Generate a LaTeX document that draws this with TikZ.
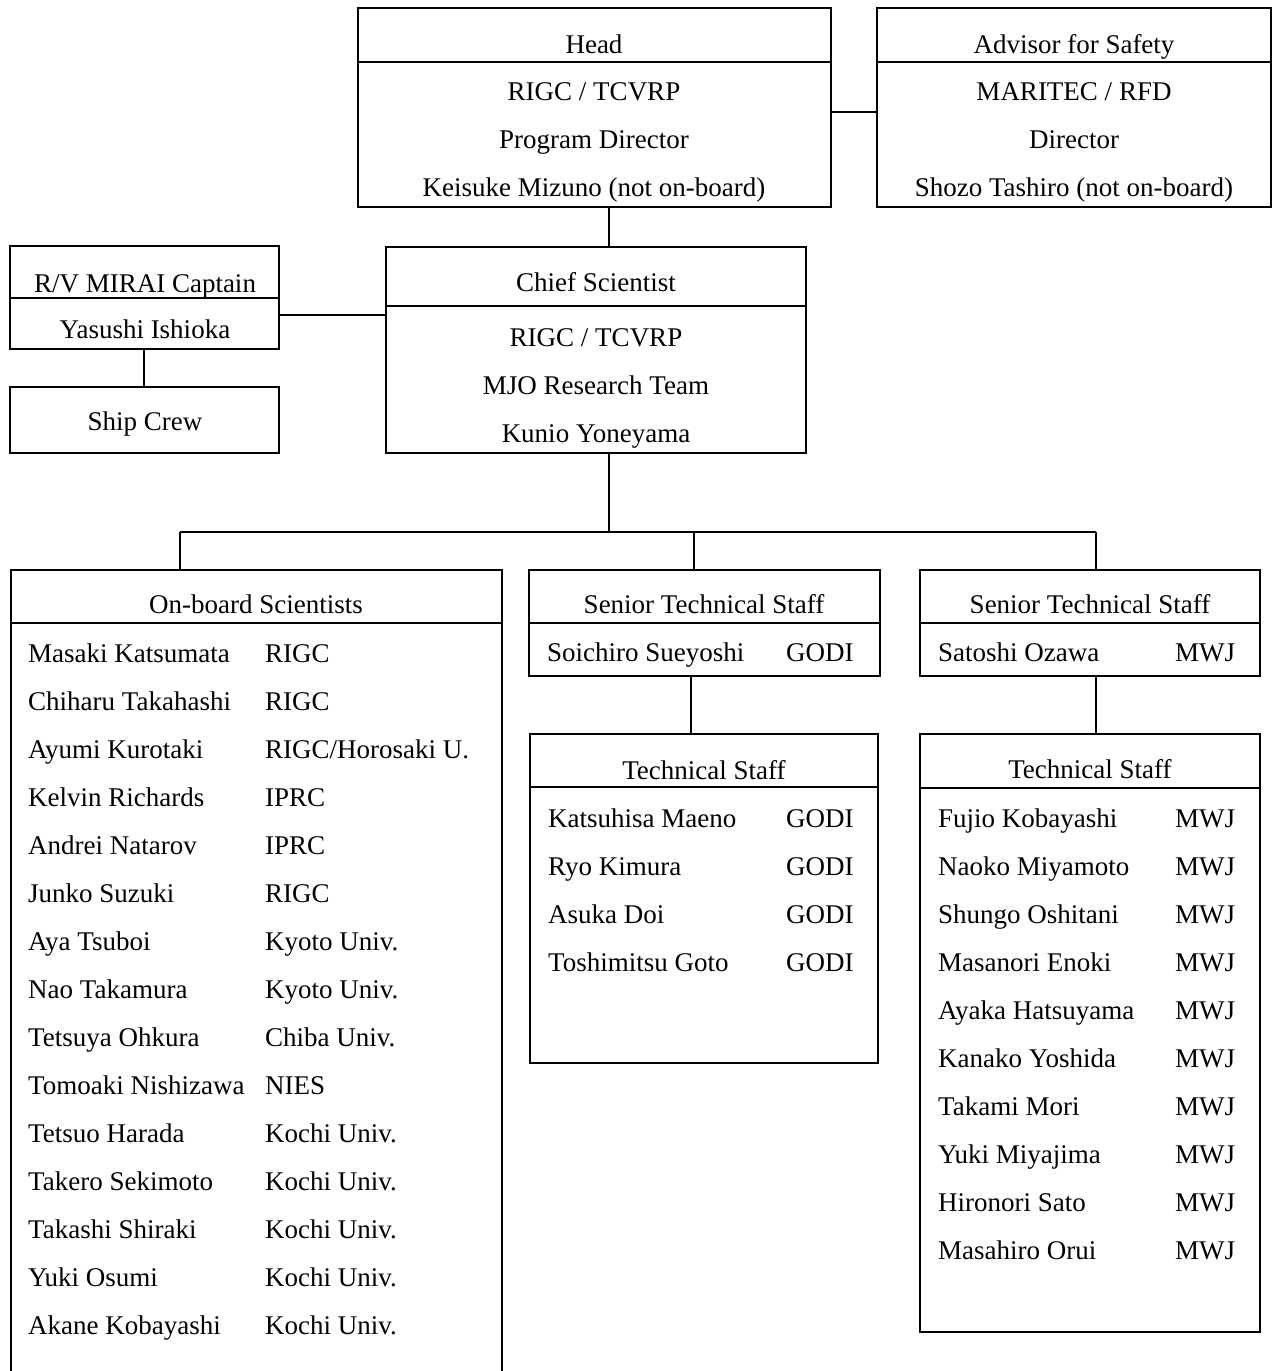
\documentclass[tikz,border=0pt]{standalone}
\usepackage{fontspec}
\setmainfont{Liberation Serif}
\usetikzlibrary{calc,positioning}

\tikzset{
  box/.style={draw,line width=1.6pt,inner sep=0pt,outer sep=0pt,anchor=north west},
  title/.style={inner sep=0pt,anchor=base},
  entry/.style={inner sep=0pt,anchor=base west},
  link/.style={line width=1.6pt}
}
\newcommand{\splitline}[2]{\draw[link] (#1.west |- 0,#2) -- (#1.east |- 0,#2);}

\begin{document}
\begin{tikzpicture}[x=1pt,y=-1pt,font=\fontsize{27}{32}\selectfont]
\clip (0,0) rectangle (1274,1371);

% top row
\node[box,minimum width=473pt,minimum height=199pt] (head) at (358,8) {};
\node[box,minimum width=394pt,minimum height=199pt] (adv) at (877,8) {};
\splitline{head}{62}
\splitline{adv}{62}
\node[title] (headT) at (594,53) {Head};
\node[title] (headA) at (594,100) {RIGC / TCVRP};
\node[title] (headB) at (594,148) {Program Director};
\node[title] (headC) at (594,196) {Keisuke Mizuno (not on-board)};
\node[title] (advT) at (1074,53) {Advisor for Safety};
\node[title] (advA) at (1074,100) {MARITEC / RFD};
\node[title] (advB) at (1074,148) {Director};
\node[title] (advC) at (1074,196) {Shozo Tashiro (not on-board)};

% ship and chief scientist
\node[box,minimum width=269pt,minimum height=103pt] (capt) at (10,246) {};
\node[box,minimum width=269pt,minimum height=66pt] (crew) at (10,387) {};
\node[box,minimum width=420pt,minimum height=206pt] (chief) at (386,247) {};
\splitline{capt}{298}
\splitline{chief}{306}
\node[title] (captT) at (145,292) {R/V MIRAI Captain};
\node[title] (captA) at (145,338) {Yasushi Ishioka};
\node[title] (crewT) at (145,430) {Ship Crew};
\node[title] (chiefT) at (596,291) {Chief Scientist};
\node[title] (chiefA) at (596,346) {RIGC / TCVRP};
\node[title] (chiefB) at (596,394) {MJO Research Team};
\node[title] (chiefC) at (596,442) {Kunio Yoneyama};

% teams
\node[box,minimum width=491pt,minimum height=820pt] (onb) at (11,570) {};
\node[box,minimum width=351pt,minimum height=106pt] (msen) at (529,570) {};
\node[box,minimum width=348pt,minimum height=329pt] (mtech) at (530,734) {};
\node[box,minimum width=340pt,minimum height=106pt] (rsen) at (920,570) {};
\node[box,minimum width=340pt,minimum height=598pt] (rtech) at (920,734) {};
\splitline{onb}{623}
\splitline{msen}{623}
\splitline{mtech}{787}
\splitline{rsen}{623}
\splitline{rtech}{788}

\node[title] (onbT) at (256,613) {On-board Scientists};
\node[title] (msenT) at (704,613) {Senior Technical Staff};
\node[title] (mtechT) at (704,779) {Technical Staff};
\node[title] (rsenT) at (1090,613) {Senior Technical Staff};
\node[title] (rtechT) at (1090,778) {Technical Staff};

\node[entry] (msenA) at (547,661) {Soichiro Sueyoshi};
\node[entry] (msenB) at (786,661) {GODI};
\node[entry] (rsenA) at (938,661) {Satoshi Ozawa};
\node[entry] (rsenB) at (1175,661) {MWJ};

\foreach \nm/\org [count=\i from 0] in {
  Masaki Katsumata/RIGC, Chiharu Takahashi/RIGC,
  Ayumi Kurotaki/RIGC\slash Horosaki U., Kelvin Richards/IPRC,
  Andrei Natarov/IPRC, Junko Suzuki/RIGC, Aya Tsuboi/Kyoto Univ.,
  Nao Takamura/Kyoto Univ., Tetsuya Ohkura/Chiba Univ.,
  Tomoaki Nishizawa/NIES, Tetsuo Harada/Kochi Univ.,
  Takero Sekimoto/Kochi Univ., Takashi Shiraki/Kochi Univ.,
  Yuki Osumi/Kochi Univ., Akane Kobayashi/Kochi Univ.}
{
  \node[entry] (sciN\i) at (28,662+48*\i) {\nm};
  \node[entry] (sciO\i) at (265,662+48*\i) {\org};
}

\foreach \nm [count=\i from 0] in {
  Katsuhisa Maeno, Ryo Kimura, Asuka Doi, Toshimitsu Goto}
{
  \node[entry] (godiN\i) at (548,827+48*\i) {\nm};
  \node[entry] (godiO\i) at (786,827+48*\i) {GODI};
}

\foreach \nm [count=\i from 0] in {
  Fujio Kobayashi, Naoko Miyamoto, Shungo Oshitani, Masanori Enoki,
  Ayaka Hatsuyama, Kanako Yoshida, Takami Mori, Yuki Miyajima,
  Hironori Sato, Masahiro Orui}
{
  \node[entry] (mwjN\i) at (938,827+48*\i) {\nm};
  \node[entry] (mwjO\i) at (1175,827+48*\i) {MWJ};
}

% links
\draw[link] (head.east |- 0,112) -- (adv.west |- 0,112);
\draw[link] (head.south -| 609,0) -- (chief.north -| 609,0);
\draw[link] (capt.east |- 0,315) -- (chief.west |- 0,315);
\draw[link] (capt.south -| 144,0) -- (crew.north -| 144,0);

\coordinate (busL) at (180,532);
\coordinate (busR) at (1096,532);
\draw[link] (chief.south -| 609,0) -- (busL -| 609,0);
\draw[link] (busL) -- (busR);
\draw[link] (busL) -- (busL |- onb.north);
\draw[link] (busL -| 694,0) -- (msen.north -| 694,0);
\draw[link] (busR) -- (busR |- rsen.north);
\draw[link] (msen.south -| 691,0) -- (mtech.north -| 691,0);
\draw[link] (rsen.south -| 1096,0) -- (rtech.north -| 1096,0);
\end{tikzpicture}
\end{document}
